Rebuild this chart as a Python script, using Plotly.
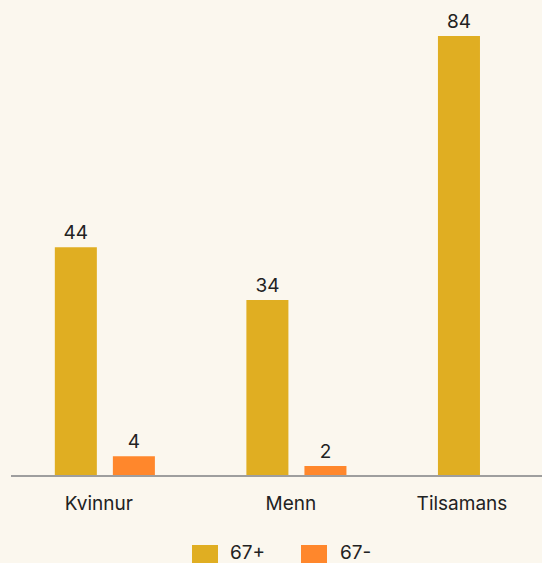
import plotly.graph_objects as go

categories = ["Kvinnur", "Menn", "Tilsamans"]
series_names = ["67+", "67-"]
values_67plus = [43.6, 33.5, 84.0]
values_67minus = [3.6, 1.7, None]
colors = ["#E0AE22", "#FF872C"]

W, H = 542, 563
ML, MR, MT, MB = 11, 0, 0, 88
plot_w = W - ML - MR
plot_h = H - MT - MB
X_RANGE = [-0.49, 2.282]

FONT = "Inter, Lato, sans-serif"
TXT = "#222222"

fig = go.Figure()
for name, vals, col in zip(series_names, [values_67plus, values_67minus], colors):
    fig.add_trace(go.Bar(
        x=categories, y=vals, name=name, marker=dict(color=col, line=dict(width=0)),
        texttemplate="%{y:.0f}",
        textposition="outside", textfont=dict(size=19, color=TXT, family=FONT),
        cliponaxis=False, showlegend=False,
    ))

# custom legend (larger swatches like the reference)
def px_x(p):
    return (p - ML) / plot_w

def px_y(p):
    return (H - MB - p) / plot_h

legend_items = [(192, 228), (301, 338)]
shapes = []
annotations = []
for (sx, tx), name, col in zip(legend_items, series_names, colors):
    shapes.append(dict(type="rect", xref="paper", yref="paper",
                       x0=px_x(sx), x1=px_x(sx + 26), y0=px_y(545), y1=px_y(563),
                       fillcolor=col, line=dict(width=0), layer="above"))
    annotations.append(dict(xref="paper", yref="paper", x=px_x(tx), y=px_y(552),
                            text=name, showarrow=False, xanchor="left", yanchor="middle",
                            font=dict(size=19, color=TXT, family=FONT)))

# category label placement (last label kept inside the chart, as in the reference)
label_px_offsets = [-6, -5.5, -26]
unit_px = plot_w / (X_RANGE[1] - X_RANGE[0])
tickvals = [i + o / unit_px for i, o in enumerate(label_px_offsets)]

fig.update_layout(
    width=W, height=H,
    margin=dict(l=ML, r=MR, t=MT, b=MB, pad=0),
    paper_bgcolor="#FBF7EE", plot_bgcolor="#FBF7EE",
    barmode="group", bargap=0.394, bargroupgap=0.276,
    font=dict(family=FONT, size=19, color=TXT),
    xaxis=dict(range=X_RANGE, showline=True, linecolor="#9E9E9E", linewidth=2,
               tickmode="array", tickvals=tickvals, ticktext=categories,
               ticks="outside", ticklen=10, tickcolor="rgba(0,0,0,0)",
               tickfont=dict(size=19, color=TXT, family=FONT), showgrid=False, fixedrange=True),
    yaxis=dict(range=[0, 90.9], visible=False, showgrid=False, zeroline=False, fixedrange=True),
    shapes=shapes, annotations=annotations,
    showlegend=False,
)

fig.write_html("out.html", config={"displayModeBar": False},
               post_script="document.body.style.margin='0';document.body.style.overflow='hidden';document.body.style.background='#FBF7EE';")
